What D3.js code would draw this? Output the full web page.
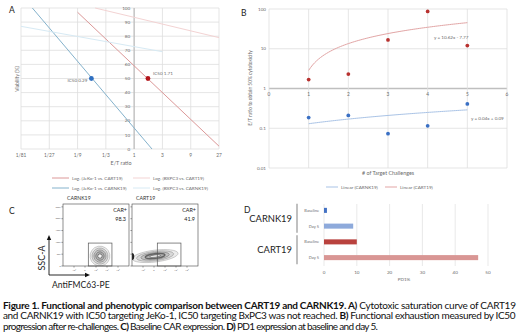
<!DOCTYPE html>
<html>
<head>
<meta charset="utf-8">
<script src="https://cdn.jsdelivr.net/npm/d3@7"></script>
<style>
body{margin:0;background:#fff}
svg{display:block;font-family:Lato, 'Open Sans', sans-serif}
</style>
</head>
<body>
<svg id="fig" width="520" height="334"></svg>
<script>

// ---- panel A: viability vs E/T ratio
var aTicks = [1/81, 1/27, 1/9, 1/3, 1, 3, 9, 27]
var aTickLabels = ['1/81', '1/27', '1/9', '1/3', '1', '3', '9', '27']
var aYTicks = [0, 10, 20, 30, 40, 50, 60, 70, 80, 90, 100]
var aSeries = ['Log. (JeKo-1 vs. CART19)', 'Log. (BXPC3 vs. CART19)', 'Log. (JeKo-1 vs. CARNK19)', 'Log. (BXPC3 vs. CARNK19)']
var aJekoCart = [[0.111, 97], [27, 2]]
var aBxCart = [[0.22, 100], [27, 79]]
var aJekoNk = [[0.0192, 100], [2.0, 0]]
var aBxNk = [[1/81, 87], [3, 69]]
var aIC50 = [{label: 'IC50 0.29', x: 0.19, y: 50}, {label: 'IC50 1.71', x: 1.71, y: 50}]

// ---- panel B: IC50 over re-challenges
var bXTicks = [0, 1, 2, 3, 4, 5, 6]
var bYTicks = [0.01, 0.1, 1, 10, 100]
var bYTickLabels = ['0.01', '0.1', '1', '10', '100']
var bChallenges = [1, 2, 3, 4, 5]
var bCart = [1.68, 2.3, 16.7, 87, 12]
var bCarnk = [0.186, 0.21, 0.073, 0.115, 0.41]
var bFitCart = {slope: 10.62, intercept: -7.77, label: 'y = 10.62x - 7.77'}
var bFitCarnk = {slope: 0.04, intercept: 0.09, label: 'y = 0.04x + 0.09'}
var bLegend = ['Linear (CARNK19)', 'Linear (CART19)']

// ---- panel C: flow plots
var cNames = ['CARNK19', 'CART19']
var cPct = ['98.3', '41.9']
var cYTicks = [0, 50000, 100000, 150000, 200000, 250000]
var cYTickLabels = ['0', '50K', '100K', '150K', '200K', '250K']
var cXTicks = [1, 2, 3, 4, 5]
var cXTickLabels = ['-10³', '0', '10³', '10⁴', '10⁵']
var cGate = {x0: 2.3, x1: 4.45, y0: 0, y1: 97000}
var cNkCenter = [3.36, 42000]
var cNkLevels = [[0.9, 42000], [0.72, 34000], [0.55, 26000], [0.38, 18000], [0.2, 9000]]
var cTCenter = [2.1, 42000]
var cTLevels = [[2.1, 25000], [1.7, 20000], [1.3, 15000], [0.9, 10000], [0.5, 5000]]

// ---- panel D: PD1%
var dGroups = ['CARNK19', 'CARNK19', 'CART19', 'CART19']
var dDays = ['Baseline', 'Day 5', 'Baseline', 'Day 5']
var dPD1 = [0.9, 8.9, 10, 47]
var dXTicks = [0, 10, 20, 30, 40, 50]

var caption = [
  [['Figure 1. Functional and phenotypic comparison between CART19 and CARNK19. A)', true], [' Cytotoxic saturation curve of CART19', false]],
  [['and CARNK19 with IC50 targeting JeKo-1, IC50 targeting BxPC3 was not reached. ', false], ['B)', true], [' Functional exhaustion measured by IC50', false]],
  [['progression after re-challenges. ', false], ['C)', true], [' Baseline CAR expression. ', false], ['D)', true], [' PD1 expression at baseline and day 5.', false]],
]


var svg = d3.select('#fig')
var grid = '#dedede', axisGrey = '#bfbfbf', txt = '#6b6b6b'

function label(sel, str, x, y, size, opts){
  opts = opts || {}
  return sel.append('text')
    .attr('x', x).attr('y', y)
    .attr('font-size', size)
    .attr('fill', opts.fill || txt)
    .attr('text-anchor', opts.anchor || 'start')
    .attr('font-weight', opts.weight || null)
    .attr('transform', opts.rotate ? `rotate(-90,${x},${y})` : null)
    .text(str)
}


// ================= A
var gA = svg.append('g')
var ax = d3.scaleLog().base(3).domain([1/81, 27]).range([21, 219])
var ay = d3.scaleLinear().domain([0, 100]).range([149, 8])

gA.selectAll('line.hg').data(aYTicks).join('line')
  .attr('x1', ax(1/81)).attr('x2', ax(27))
  .attr('y1', ay).attr('y2', ay)
  .attr('stroke', grid).attr('stroke-width', 0.8)

gA.selectAll('line.vg').data(aTicks).join('line')
  .attr('x1', ax).attr('x2', ax)
  .attr('y1', ay(0)).attr('y2', ay(100))
  .attr('stroke', d => d == 1 ? axisGrey : grid)
  .attr('stroke-width', d => d == 1 ? 1.4 : 0.8)

gA.selectAll('text.yt').data(aYTicks).join('text')
  .attr('x', ax(1) - 4).attr('y', ay).attr('dy', '.35em')
  .attr('text-anchor', 'end').attr('font-size', 4.6).attr('fill', txt)
  .text(d => d)

gA.selectAll('text.xt').data(aTicks).join('text')
  .attr('x', ax).attr('y', 157)
  .attr('text-anchor', 'middle').attr('font-size', 4.8).attr('fill', txt)
  .text((d, i) => aTickLabels[i])

label(gA, 'E/T ratio', 121, 165, 5.4, {anchor: 'middle'})
label(gA, 'Viability (%)', 19, 79, 5, {anchor: 'middle', rotate: true})
label(gA, 'A', 9, 13, 8.5, {fill: '#222'})

var aColors = ['#dc9898', '#f3d3d3', '#84b2cc', '#d7eaf4']
var aLine = d3.line().x(d => ax(d[0])).y(d => ay(d[1]))
;[aJekoCart, aBxCart, aJekoNk, aBxNk].forEach((pts, i) => {
  gA.append('path').attr('d', aLine(pts))
    .attr('fill', 'none').attr('stroke', aColors[i]).attr('stroke-width', 1)
})

gA.selectAll('circle.ic').data(aIC50).join('circle')
  .attr('cx', d => ax(d.x)).attr('cy', d => ay(d.y)).attr('r', 2.4)
  .attr('fill', (d, i) => i ? '#b3141a' : '#2f6fc1')

gA.selectAll('text.ic').data(aIC50).join('text')
  .attr('x', (d, i) => ax(d.x) + (i ? 5 : -4))
  .attr('y', (d, i) => ay(d.y) + (i ? -4 : 3))
  .attr('text-anchor', (d, i) => i ? 'start' : 'end')
  .attr('font-size', 4.6).attr('fill', txt)
  .text(d => d.label)

var aLegendPos = [[52, 178], [133, 178], [52, 188], [133, 188]]
aSeries.forEach((s, i) => {
  var [x, y] = aLegendPos[i]
  gA.append('line').attr('x1', x).attr('x2', x + 17).attr('y1', y).attr('y2', y)
    .attr('stroke', aColors[i]).attr('stroke-width', 1)
  label(gA, s, x + 20, y + 1.6, 4.6)
})


// ================= B
var gB = svg.append('g')
var bx = d3.scaleLinear().domain([0, 6]).range([269, 507])
var by = d3.scaleLog().domain([0.01, 100]).range([168, 9])

gB.selectAll('line.hg').data(bYTicks).join('line')
  .attr('x1', bx(0)).attr('x2', bx(6))
  .attr('y1', by).attr('y2', by)
  .attr('stroke', d => d == 1 ? axisGrey : grid)
  .attr('stroke-width', d => d == 1 ? 1.3 : 0.8)

gB.selectAll('line.vg').data(bXTicks).join('line')
  .attr('x1', bx).attr('x2', bx)
  .attr('y1', by(0.01)).attr('y2', by(100))
  .attr('stroke', grid).attr('stroke-width', 0.8)

gB.selectAll('text.yt').data(bYTicks).join('text')
  .attr('x', bx(0) - 3).attr('y', by).attr('dy', '.35em')
  .attr('text-anchor', 'end').attr('font-size', 4.6).attr('fill', txt)
  .text((d, i) => bYTickLabels[i])

gB.selectAll('text.xt').data(bXTicks).join('text')
  .attr('x', bx).attr('y', by(1) + 7)
  .attr('text-anchor', 'middle').attr('font-size', 4.8).attr('fill', txt)
  .text(d => d)

label(gB, '# of Target Challenges', 388, 175, 5.4, {anchor: 'middle'})
label(gB, 'E/T ratio to obtain 50% cytotoxicity', 252, 88, 4.8, {anchor: 'middle', rotate: true})
label(gB, 'B', 241, 16, 8.5, {fill: '#222'})

var bLine = d3.line().x(d => bx(d[0])).y(d => by(d[1]))
function fitPts(f){
  return d3.range(1, 5.001, 0.05).map(x => [x, f.slope*x + f.intercept])
}
gB.append('path').attr('d', bLine(fitPts(bFitCart)))
  .attr('fill', 'none').attr('stroke', '#e2a5a5').attr('stroke-width', 1)
gB.append('path').attr('d', bLine(fitPts(bFitCarnk)))
  .attr('fill', 'none').attr('stroke', '#a9c3e6').attr('stroke-width', 1)

gB.selectAll('circle.cart').data(bCart).join('circle')
  .attr('cx', (d, i) => bx(bChallenges[i])).attr('cy', by).attr('r', 1.9)
  .attr('fill', '#b8312f')
gB.selectAll('circle.nk').data(bCarnk).join('circle')
  .attr('cx', (d, i) => bx(bChallenges[i])).attr('cy', by).attr('r', 1.9)
  .attr('fill', '#3a70c4')

label(gB, bFitCart.label, 434, 38.5, 4.6)
label(gB, bFitCarnk.label, 471, 120, 4.6)

var bColors = ['#a9c3e6', '#e2a5a5']
var bLegendX = [326, 385]
bLegend.forEach((s, i) => {
  gB.append('line').attr('x1', bLegendX[i]).attr('x2', bLegendX[i] + 12)
    .attr('y1', 187).attr('y2', 187)
    .attr('stroke', bColors[i]).attr('stroke-width', 1)
  label(gB, s, bLegendX[i] + 15, 188.6, 4.6)
})


// ================= C
var gC = svg.append('g')
label(gC, 'C', 9, 214, 8.5, {fill: '#222'})

var frames = [63, 132]
frames.forEach((left, k) => {
  var fx = d3.scaleLinear().domain([0, 6]).range([left, left + 66])
  var fy = d3.scaleLinear().domain([0, 262144]).range([266, 204])
  var g = gC.append('g')
  var clipId = 'clip' + k
  g.append('clipPath').attr('id', clipId).append('rect')
    .attr('x', fx(0)).attr('y', fy(262144)).attr('width', 66).attr('height', 62)

  var center = k ? cTCenter : cNkCenter
  var levels = k ? cTLevels : cNkLevels
  var rot = k ? -7 : -10
  var shades = d3.scaleLinear().domain([0, levels.length - 1]).range(['#b0b0b0', '#4a4a4a'])
  var fills = d3.scaleLinear().domain([0, levels.length - 1]).range(['#ececec', '#9a9a9a'])
  var cg = g.append('g').attr('clip-path', `url(#${clipId})`)
  cg.selectAll('ellipse').data(levels).join('ellipse')
    .attr('cx', fx(center[0])).attr('cy', fy(center[1]))
    .attr('rx', d => fx(d[0]) - fx(0)).attr('ry', d => fy(0) - fy(d[1]))
    .attr('transform', `rotate(${rot},${fx(center[0])},${fy(center[1])})`)
    .attr('fill', (d, i) => i == levels.length - 1 ? '#f4f4f4' : fills(i))
    .attr('stroke', (d, i) => shades(i))
    .attr('stroke-width', (d, i) => k && i == levels.length - 2 ? 1.4 : 0.6)
  if (k){
    // dense events piled on the axis
    cg.append('ellipse').attr('cx', fx(0)).attr('cy', fy(40000))
      .attr('rx', 2.2).attr('ry', 3.5).attr('fill', '#222')
  }

  g.append('rect').attr('x', fx(0)).attr('y', fy(262144)).attr('width', 66).attr('height', 62)
    .attr('fill', 'none').attr('stroke', '#444').attr('stroke-width', 0.6)
  g.append('rect').attr('x', fx(cGate.x0)).attr('y', fy(cGate.y1))
    .attr('width', fx(cGate.x1) - fx(cGate.x0)).attr('height', fy(cGate.y0) - fy(cGate.y1))
    .attr('fill', 'none').attr('stroke', '#555').attr('stroke-width', 0.7)

  g.selectAll('line.yt').data(cYTicks).join('line')
    .attr('x1', fx(0) - 1.6).attr('x2', fx(0)).attr('y1', fy).attr('y2', fy)
    .attr('stroke', '#444').attr('stroke-width', 0.5)
  g.selectAll('line.xt').data(cXTicks).join('line')
    .attr('x1', fx).attr('x2', fx).attr('y1', fy(0)).attr('y2', fy(0) + 1.6)
    .attr('stroke', '#444').attr('stroke-width', 0.5)
  g.selectAll('text.xt').data(cXTicks).join('text')
    .attr('x', fx).attr('y', fy(0) + 4.5).attr('text-anchor', 'middle')
    .attr('font-size', 2.2).attr('fill', '#555')
    .text((d, i) => cXTickLabels[i])
  if (!k){
    g.selectAll('text.yt').data(cYTicks).join('text')
      .attr('x', fx(0) - 2.3).attr('y', fy).attr('dy', '.35em').attr('text-anchor', 'end')
      .attr('font-size', 2.2).attr('fill', '#555')
      .text((d, i) => cYTickLabels[i])
  }

  label(g, cNames[k], fx(0) + 4, 200, 5.2, {fill: '#333'})
  label(g, 'CAR+', fx(6) - 2, 212, 5.4, {fill: '#222', anchor: 'end'})
  label(g, cPct[k], fx(6) - 3, 221, 5.4, {fill: '#222', anchor: 'end'})
})

// axis arrows
gC.append('path').attr('d', 'M49,275V239').attr('stroke', '#111').attr('stroke-width', 0.9)
gC.append('path').attr('d', 'M49,275H86').attr('stroke', '#111').attr('stroke-width', 0.9)
gC.append('path').attr('d', 'M46.8,240L49,235L51.2,240Z').attr('fill', '#111')
gC.append('path').attr('d', 'M85,272.8L90,275L85,277.2Z').attr('fill', '#111')
label(gC, 'SSC-A', 45, 258, 9, {fill: '#222', anchor: 'middle', rotate: true})
label(gC, 'AntiFMC63-PE', 52, 288, 8.6, {fill: '#222'})


// ================= D
var gD = svg.append('g')
var dx = d3.scaleLinear().domain([0, 50]).range([324, 488])
var dy = d3.scaleBand().domain(d3.range(dPD1.length)).range([202.5, 265.5])
  .paddingInner(0.68).paddingOuter(0.34)
var dColors = ['#4472c4', '#8eaadb', '#b9423e', '#d99694']

gD.selectAll('line.vg').data(dXTicks).join('line')
  .attr('x1', dx).attr('x2', dx).attr('y1', 204).attr('y2', 266)
  .attr('stroke', '#e3e3e3').attr('stroke-width', 0.8)

gD.selectAll('rect').data(dPD1).join('rect')
  .attr('x', dx(0)).attr('y', (d, i) => dy(i))
  .attr('width', d => dx(d) - dx(0)).attr('height', dy.bandwidth())
  .attr('fill', (d, i) => dColors[i])

gD.selectAll('text.cat').data(dDays).join('text')
  .attr('x', dx(0) - 5).attr('y', (d, i) => dy(i) + dy.bandwidth()/2).attr('dy', '.35em')
  .attr('text-anchor', 'end').attr('font-size', 4).attr('fill', txt)
  .text(d => d)

gD.selectAll('text.xt').data(dXTicks).join('text')
  .attr('x', dx).attr('y', 274).attr('text-anchor', 'middle')
  .attr('font-size', 4.6).attr('fill', txt)
  .text(d => d)

label(gD, 'PD1%', 404, 281, 4.6, {anchor: 'middle'})
label(gD, 'D', 244, 213, 8.5, {fill: '#222'})

// group labels with brackets
var groups = d3.groups(d3.range(dPD1.length), i => dGroups[i])
groups.forEach(([name, idx]) => {
  var y0 = dy(idx[0]) - 4, y1 = dy(idx[idx.length - 1]) + dy.bandwidth() + 4
  gD.append('line').attr('x1', 297).attr('x2', 297).attr('y1', y0).attr('y2', y1)
    .attr('stroke', '#8c8c8c').attr('stroke-width', 1.1)
  label(gD, name, 292, (y0 + y1)/2 + 3.3, 9.4, {fill: '#222', anchor: 'end'})
})


// ================= caption
// squeeze each line to the reference width with letter spacing, not stretching
var capWidths = [513, 513, 374]
caption.forEach((parts, i) => {
  var t = svg.append('text')
    .attr('x', 3).attr('y', 308.5 + i*10.5)
    .attr('font-size', 10).attr('fill', '#111')
  parts.forEach(([s, b]) => {
    t.append('tspan').attr('font-weight', b ? 700 : 400).text(s)
  })
  var n = d3.sum(parts, d => d[0].length)
  var w = t.node().getComputedTextLength()
  t.attr('letter-spacing', (capWidths[i] - w)/n)
})

</script>
</body>
</html>
